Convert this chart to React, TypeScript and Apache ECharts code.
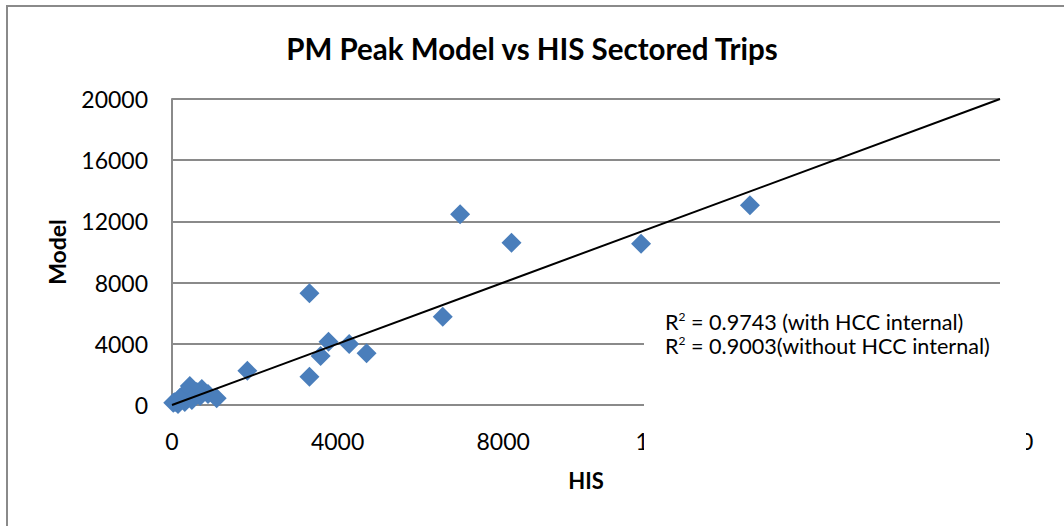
import React, { useEffect, useRef } from "react";
import * as echarts from "echarts";

const titleText = "PM Peak Model vs HIS Sectored Trips";
const xAxisTitle = "HIS";
const yAxisTitle = "Model";
const axisMin = 0;
const axisMax = 20000;
const axisStep = 4000;

// HIS (x) and Model (y) values of the sectored trips
const hisValues = [13960, 6960, 8200, 11330, 6540, 3320, 3780, 4280, 3590, 4700, 1820, 3320, 1080, 870, 720, 680, 600, 430, 340, 480, 310, 190, 145, 72, 30];
const modelValues = [13050, 12460, 10610, 10540, 5770, 7300, 4140, 3990, 3200, 3380, 2240, 1850, 440, 720, 1050, 590, 850, 1240, 850, 330, 200, 460, 65, 196, 150];

// y = x reference line
const trendX = [0, 20000];
const trendY = [0, 20000];

const r2Lines = ["0.9743 (with HCC internal)", "0.9003(without HCC internal)"];

const FONT = "Lato";

export default function App() {
  const ref = useRef<HTMLDivElement>(null);
  useEffect(() => {
    if (!ref.current) return;
    const chart = echarts.init(ref.current, null, { renderer: "svg" });
    const points = hisValues.map((x, i) => [x, modelValues[i]]);
    const trend = trendX.map((x, i) => [x, trendY[i]]);
    const gridColor = "#8a8a8a";
    const plain = (v: number) => String(v);
    chart.setOption({
      animation: false,
      backgroundColor: "#ffffff",
      textStyle: { fontFamily: FONT },
      title: {
        text: titleText,
        left: "center",
        top: 28,
        textStyle: { fontFamily: FONT, fontWeight: "bold", fontSize: 29.5, color: "#000" },
      },
      grid: { left: 172, top: 99, right: 64, bottom: 121, containLabel: false },
      xAxis: {
        type: "value",
        min: axisMin,
        max: axisMax,
        interval: axisStep,
        name: xAxisTitle,
        nameLocation: "middle",
        nameGap: 64,
        nameTextStyle: { fontFamily: FONT, fontWeight: "bold", fontSize: 22, color: "#000" },
        axisLine: { show: true, lineStyle: { color: gridColor, width: 2 } },
        axisTick: { show: false },
        axisLabel: { margin: 24, fontSize: 23, color: "#000", fontFamily: FONT, formatter: plain },
        splitLine: { show: false },
      },
      yAxis: {
        type: "value",
        min: axisMin,
        max: axisMax,
        interval: axisStep,
        name: yAxisTitle,
        nameLocation: "middle",
        nameGap: 104,
        nameTextStyle: { fontFamily: FONT, fontWeight: "bold", fontSize: 23, color: "#000" },
        axisLine: { show: true, lineStyle: { color: gridColor, width: 2 } },
        axisTick: { show: false },
        axisLabel: { margin: 24, fontSize: 23, color: "#000", fontFamily: FONT, formatter: plain },
        splitLine: { show: true, lineStyle: { color: gridColor, width: 2 } },
      },
      series: [
        {
          type: "scatter",
          data: points,
          symbol: "diamond",
          symbolSize: 20,
          itemStyle: { color: "#4a7ebb", opacity: 1 },
          z: 2,
        },
        {
          type: "line",
          data: trend,
          symbol: "none",
          lineStyle: { color: "#000", width: 2 },
          z: 3,
        },
      ],
      graphic: [
        {
          type: "rect",
          z: 100,
          shape: { x: 7, y: 6, width: 1100, height: 600 },
          style: { fill: "none", stroke: "#8a8a8a", lineWidth: 2 },
        },
        {
          type: "rect",
          z: 100,
          shape: { x: 644, y: 298, width: 382, height: 165 },
          style: { fill: "#ffffff", stroke: "none" },
        },
        {
          type: "text",
          z: 101,
          x: 665,
          y: 310,
          style: {
            text: r2Lines.map((t) => "R{sup|2} = " + t).join("\n"),
            fontFamily: FONT,
            fontSize: 21.6,
            lineHeight: 24,
            fill: "#000",
            rich: {
              sup: { fontSize: 12, verticalAlign: "top", lineHeight: 24, padding: [0, 0, 10, 0], fontFamily: FONT },
            },
          },
        },
      ],
    });
    return () => chart.dispose();
  }, []);
  return (
    <div
      ref={ref}
      style={{ position: "absolute", left: 0, top: 0, width: 1064, height: 526 }}
    />
  );
}
